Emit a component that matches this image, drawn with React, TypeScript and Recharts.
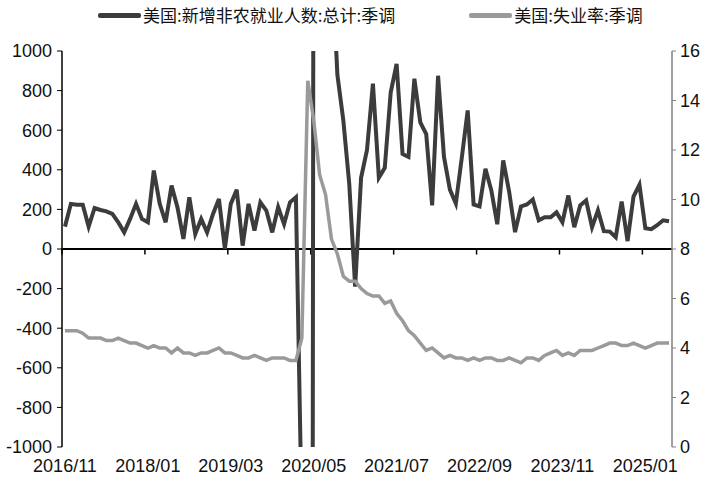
import React from 'react';
import { LineChart, Line, XAxis, YAxis, ReferenceLine } from 'recharts';

// monthly categories, 2016/11 .. 2025/05
const START_YEAR = 2016;
const START_MONTH = 11;
const COUNT = 103;
const months: string[] = [];
for (let i = 0; i < COUNT; i++) {
  const m = START_MONTH - 1 + i;
  const y = START_YEAR + Math.floor(m / 12);
  months.push(`${y}/${String((m % 12) + 1).padStart(2, '0')}`);
}

// 美国:新增非农就业人数:总计:季调 (千人)
const payrolls = [
  113, 228, 224, 224, 113, 207, 197, 190, 177, 135, 84, 152, 228, 152, 135, 396,
  228, 135, 320, 210, 51, 261, 76, 152, 84, 177, 253, 1, 228, 299, 17, 228,
  93, 236, 194, 84, 211, 126, 236, 261, -1373, -20500, 2700, 4500, 1700, 1500,
  880, 650, 330, -190, 360, 500, 835, 360, 410, 790, 935, 480, 465, 860, 640,
  580, 220, 875, 465, 300, 230, 460, 700, 225, 215, 405, 295, 125, 447, 290,
  85, 215, 225, 250, 145, 160, 160, 185, 135, 270, 110, 220, 245, 110, 195,
  90, 88, 60, 240, 40, 265, 325, 105, 100, 120, 145, 140,
];

// 美国:失业率:季调 (%)
const unemployment = [
  4.7, 4.7,
  4.7, 4.6, 4.4, 4.4, 4.4, 4.3, 4.3, 4.4, 4.3, 4.2, 4.2, 4.1,
  4.0, 4.1, 4.0, 4.0, 3.8, 4.0, 3.8, 3.8, 3.7, 3.8, 3.8, 3.9,
  4.0, 3.8, 3.8, 3.7, 3.6, 3.6, 3.7, 3.6, 3.5, 3.6, 3.6, 3.6,
  3.5, 3.5, 4.4, 14.8, 13.2, 11.0, 10.2, 8.4, 7.8, 6.9, 6.7, 6.7,
  6.4, 6.2, 6.1, 6.1, 5.8, 5.9, 5.4, 5.1, 4.7, 4.5, 4.2, 3.9,
  4.0, 3.8, 3.6, 3.7, 3.6, 3.6, 3.5, 3.6, 3.5, 3.6, 3.6, 3.5,
  3.5, 3.6, 3.5, 3.4, 3.6, 3.6, 3.5, 3.7, 3.8, 3.9, 3.7, 3.8,
  3.7, 3.9, 3.9, 3.9, 4.0, 4.1, 4.2, 4.2, 4.1, 4.1, 4.2, 4.1,
  4.0, 4.1, 4.2, 4.2, 4.2,
];

const tickLabels = ['2016/11', '2018/01', '2019/03', '2020/05', '2021/07', '2022/09', '2023/11', '2025/01'];
const leftTicks = [-1000, -800, -600, -400, -200, 0, 200, 400, 600, 800, 1000];
const rightTicks = [0, 2, 4, 6, 8, 10, 12, 14, 16];

const SERIES_NFP = '美国:新增非农就业人数:总计:季调';
const SERIES_UR = '美国:失业率:季调';
const DARK = '#3c3c3c';
const GREY = '#9a9a9a';
const FONT = "'Liberation Sans Narrow', 'Arial Narrow', 'Liberation Sans', Arial, sans-serif";

const data = months.map((m, i) => ({ idx: i, month: m, nfp: payrolls[i], ur: unemployment[i] }));
const tickIdx = tickLabels.map((l) => months.indexOf(l));

const tickStyle = { fontSize: 18, fill: '#111', fontFamily: FONT };

const LegendItem = ({ color, label }: { color: string; label: string }) => (
  <div style={{ display: 'flex', alignItems: 'center' }}>
    <span style={{ width: 43, height: 5, background: color, borderRadius: 2, marginRight: 2 }} />
    <span>{label}</span>
  </div>
);

export default function App() {
  return (
    <div style={{ position: 'absolute', left: 0, top: 0, width: 709, height: 488, background: '#fff' }}>
      <div
        style={{
          position: 'absolute',
          top: 4,
          left: 98,
          display: 'flex',
          gap: 74,
          fontSize: 17,
          fontFamily: "'Noto Sans CJK SC', sans-serif",
          color: '#111',
          lineHeight: '22px',
        }}
      >
        <LegendItem color={DARK} label={SERIES_NFP} />
        <LegendItem color={GREY} label={SERIES_UR} />
      </div>
      <LineChart width={709} height={488} data={data} margin={{ top: 51, right: 0, bottom: 0, left: 0 }}>
        <XAxis
          dataKey="idx"
          type="number"
          domain={[-0.5, COUNT - 0.5]}
          ticks={tickIdx}
          tickFormatter={(v: number) => months[v]}
          axisLine={false}
          tickLine={false}
          height={41}
          tickMargin={6}
          tick={tickStyle}
          interval={0}
        />
        <YAxis
          yAxisId="left"
          domain={[-1000, 1000]}
          ticks={leftTicks}
          allowDataOverflow
          width={62}
          tickSize={5}
          tickMargin={5}
          axisLine={{ stroke: '#000', strokeWidth: 1.5 }}
          tickLine={{ stroke: '#000' }}
          tick={tickStyle}
          interval={0}
        />
        <YAxis
          yAxisId="right"
          orientation="right"
          domain={[0, 16]}
          ticks={rightTicks}
          allowDataOverflow
          width={37}
          tickSize={4}
          tickMargin={4}
          axisLine={{ stroke: '#808080', strokeWidth: 1.5 }}
          tickLine={{ stroke: '#808080' }}
          tick={tickStyle}
          interval={0}
        />
        <ReferenceLine yAxisId="left" y={0} stroke="#000" strokeWidth={2} />
        {tickIdx.map((t) => (
          <ReferenceLine
            key={`zt-${t}`}
            yAxisId="left"
            segment={[{ x: t - 0.5, y: 0 }, { x: t - 0.5, y: -28 }]}
            stroke="#000"
            strokeWidth={1.5}
          />
        ))}
        <Line
          yAxisId="left"
          type="linear"
          dataKey="nfp"
          name={SERIES_NFP}
          stroke={DARK}
          strokeWidth={4}
          dot={false}
          isAnimationActive={false}
        />
        <Line
          yAxisId="right"
          type="linear"
          dataKey="ur"
          name={SERIES_UR}
          stroke={GREY}
          strokeWidth={3.5}
          dot={false}
          isAnimationActive={false}
        />
      </LineChart>
    </div>
  );
}
